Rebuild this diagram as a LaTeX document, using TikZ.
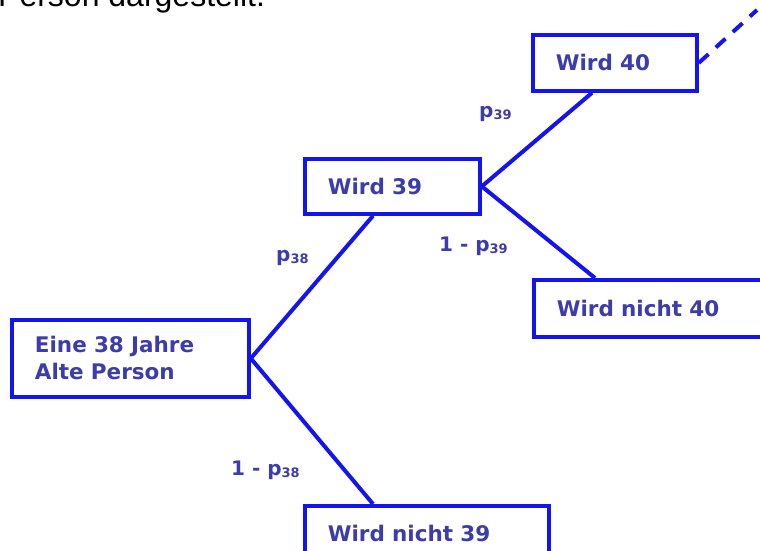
\documentclass[tikz,border=0pt]{standalone}
\usepackage{fontspec}
\setmainfont{DejaVu Sans}
\newfontfamily\topfont{Liberation Sans}
\usetikzlibrary{calc}
\definecolor{boxblue}{RGB}{20,20,240}
\definecolor{txtblue}{RGB}{60,60,170}
\newcommand{\subtxt}[1]{\raisebox{-2pt}{\fontsize{13}{13}\selectfont #1}}
\begin{document}
\begin{tikzpicture}[x=1pt,y=-1pt,
  box/.style={draw=boxblue,line width=3.8pt,anchor=north west,inner xsep=23pt,inner ysep=0pt,
    align=left,font=\fontsize{21.5}{27}\selectfont\bfseries,text=txtblue},
  conn/.style={draw=boxblue,line width=4pt},
  lbl/.style={anchor=west,inner sep=0pt,font=\fontsize{20}{22}\selectfont\bfseries,text=txtblue}]
\useasboundingbox (0,0) rectangle (760,551);
\clip (0,0) rectangle (760,551);
\node[anchor=base west,inner sep=0pt,font=\topfont\fontsize{32}{36}\selectfont] (title) at (-2,7) {Person dargestellt.};
\node[box,minimum width=237pt,minimum height=77pt,text width=191pt] (a) at (10,318) {Eine 38 Jahre\\Alte Person};
\node[box,minimum width=175pt,minimum height=55pt,text width=129pt] (b) at (303,157) {Wird 39};
\node[box,minimum width=164pt,minimum height=56pt,text width=118pt] (d) at (531,33) {Wird 40};
\node[box,minimum width=230pt,minimum height=57pt,text width=184pt] (e) at (532,278) {Wird nicht 40};
\node[box,minimum width=244pt,minimum height=56pt,text width=198pt] (c) at (303,504) {Wird nicht 39};
\coordinate (farend) at (757,10);
\draw[conn] (a.east) -- ($(b.south west)+(70,0)$);
\draw[conn] (a.east) -- ($(c.north west)+(70,0)$);
\draw[conn] (b.east) -- ($(d.south west)+(61,0)$);
\draw[conn] (b.east) -- ($(e.north west)+(63,0)$);
\draw[conn,dash pattern=on 13pt off 10pt] (d.east) -- (farend);
\node[lbl] (l1) at (479,114) {p\subtxt{39}};
\node[lbl] (l2) at (276,258) {p\subtxt{38}};
\node[lbl] (l3) at (439,246) {1 - p\subtxt{39}};
\node[lbl] (l4) at (231,470) {1 - p\subtxt{38}};
\end{tikzpicture}
\end{document}
